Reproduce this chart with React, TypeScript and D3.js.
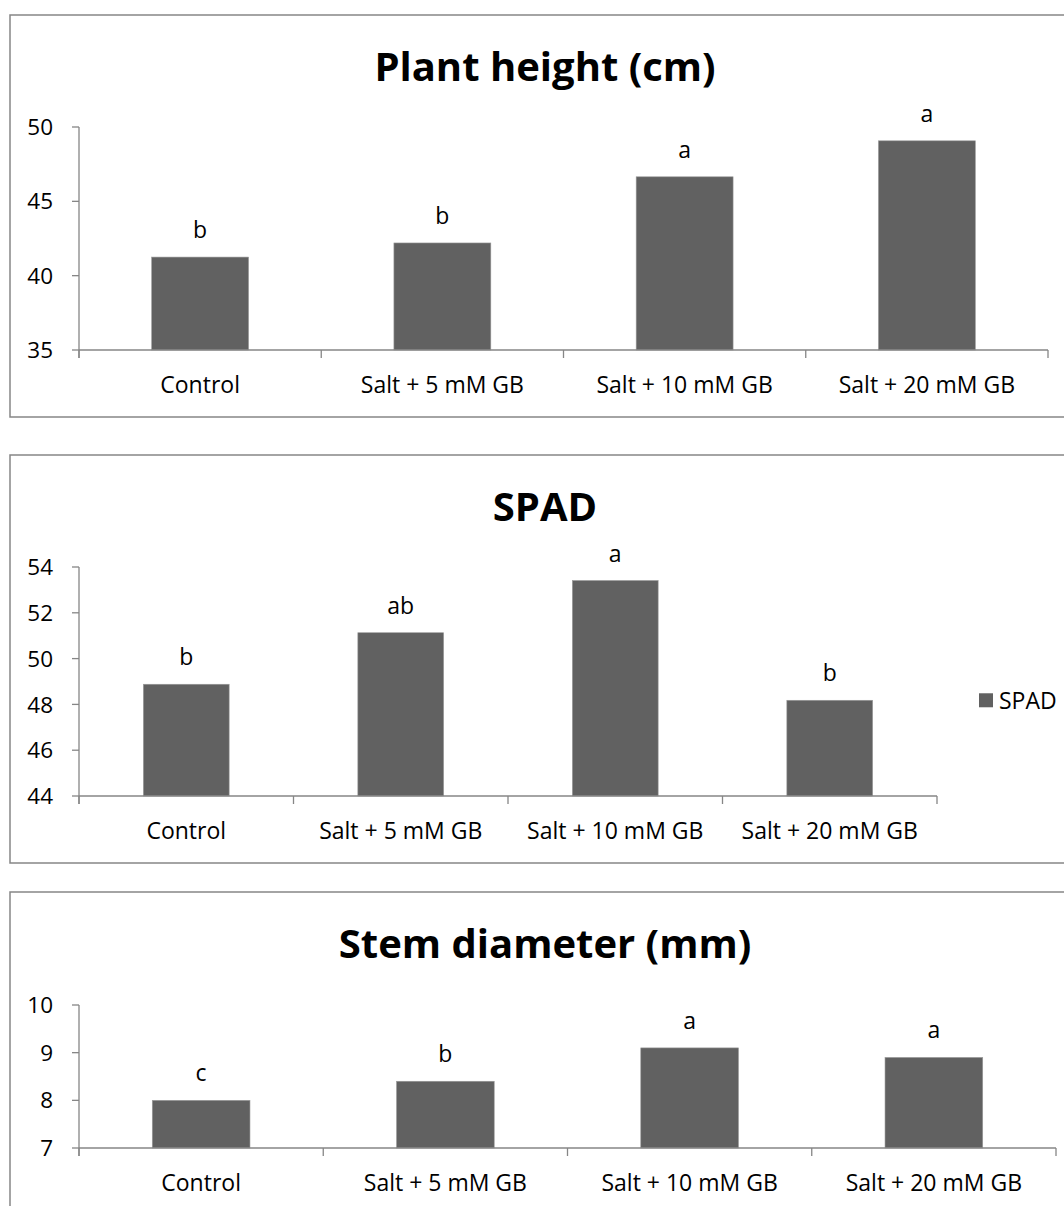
import React from 'react';
import * as d3 from 'd3';

const categories = ['Control', 'Salt + 5 mM GB', 'Salt + 10 mM GB', 'Salt + 20 mM GB'];

const plantHeight = [41.25, 42.2, 46.65, 49.07];
const plantLetters = ['b', 'b', 'a', 'a'];
const plantTicks = [35, 40, 45, 50];

const spad = [48.88, 51.13, 53.41, 48.18];
const spadLetters = ['b', 'ab', 'a', 'b'];
const spadTicks = [44, 46, 48, 50, 52, 54];

const stemDiameter = [8.0, 8.4, 9.1, 8.9];
const stemLetters = ['c', 'b', 'a', 'a'];
const stemTicks = [7, 8, 9, 10];

const FONT = '"Open Sans", sans-serif';
const AXIS = '#868686';
const BAR = '#616161';

type PanelProps = {
  title: string;
  values: number[];
  letters: string[];
  ticks: number[];
  frameTop: number;
  frameBottom: number;
  plotTop: number;
  plotBottom: number;
  plotRight: number;
  legend?: string;
};

function Panel({ title, values, letters, ticks, frameTop, frameBottom, plotTop, plotBottom, plotRight, legend }: PanelProps) {
  const left = 79;
  const x = d3.scaleBand()
    .domain(categories)
    .range([left, plotRight])
    .paddingInner(0.6)
    .paddingOuter(0.3);
  const y = d3.scaleLinear()
    .domain(d3.extent(ticks) as [number, number])
    .range([plotBottom, plotTop]);
  const step = (plotRight - left) / categories.length;
  const bounds = d3.range(categories.length + 1).map(i => left + i * step);

  return (
    <g>
      <rect x={10} y={frameTop} width={1070} height={frameBottom - frameTop}
        fill="#fff" stroke={AXIS} strokeWidth={1.5} />
      <text x={545} y={frameTop + 66} textAnchor="middle" fontFamily={FONT}
        fontWeight="bold" fontSize={40}>{title}</text>

      {/* y axis */}
      <line x1={left} x2={left} y1={plotTop} y2={plotBottom + 8} stroke={AXIS} strokeWidth={1.3} />
      {ticks.map(t => (
        <g key={t}>
          <line x1={left - 7} x2={left} y1={y(t)} y2={y(t)} stroke={AXIS} strokeWidth={1.3} />
          <text x={left - 26} y={y(t)} dy="0.36em" textAnchor="end" fontFamily={FONT} fontSize={22.5}>{t}</text>
        </g>
      ))}

      {/* bars */}
      {values.map((v, i) => (
        <g key={categories[i]}>
          <rect x={x(categories[i])} y={y(v)} width={x.bandwidth()} height={y(ticks[0]) - y(v)}
            fill={BAR} stroke="#9a9a9a" strokeWidth={0.6} />
          <text x={(x(categories[i]) as number) + x.bandwidth() / 2} y={y(v) - 19}
            textAnchor="middle" fontFamily={FONT} fontSize={23}>{letters[i]}</text>
        </g>
      ))}

      {/* x axis */}
      <line x1={left} x2={plotRight} y1={plotBottom} y2={plotBottom} stroke={AXIS} strokeWidth={1.3} />
      {bounds.map((b, i) => (
        <line key={i} x1={b} x2={b} y1={plotBottom} y2={plotBottom + 8} stroke={AXIS} strokeWidth={1.3} />
      ))}
      {categories.map(c => (
        <text key={c} x={(x(c) as number) + x.bandwidth() / 2} y={plotBottom + 43}
          textAnchor="middle" fontFamily={FONT} fontSize={23}>{c}</text>
      ))}

      {legend && (
        <g>
          <rect x={979} y={y(spad[3]) - 7} width={14} height={14} fill={BAR} />
          <text x={999} y={y(spad[3])} dy="0.36em" fontFamily={FONT} fontSize={23}>{legend}</text>
        </g>
      )}
    </g>
  );
}

export default function App() {
  return (
    <svg width={1064} height={1206} style={{ position: 'absolute', left: 0, top: 0, background: '#fff' }}>
      <rect width={1064} height={1206} fill="#fff" />
      <Panel title="Plant height (cm)" values={plantHeight} letters={plantLetters} ticks={plantTicks}
        frameTop={15} frameBottom={417} plotTop={127} plotBottom={350} plotRight={1048} />
      <Panel title="SPAD" values={spad} letters={spadLetters} ticks={spadTicks}
        frameTop={455} frameBottom={863} plotTop={567} plotBottom={796} plotRight={937} legend="SPAD" />
      <Panel title="Stem diameter (mm)" values={stemDiameter} letters={stemLetters} ticks={stemTicks}
        frameTop={892} frameBottom={1230} plotTop={1005} plotBottom={1148} plotRight={1056} />
    </svg>
  );
}
